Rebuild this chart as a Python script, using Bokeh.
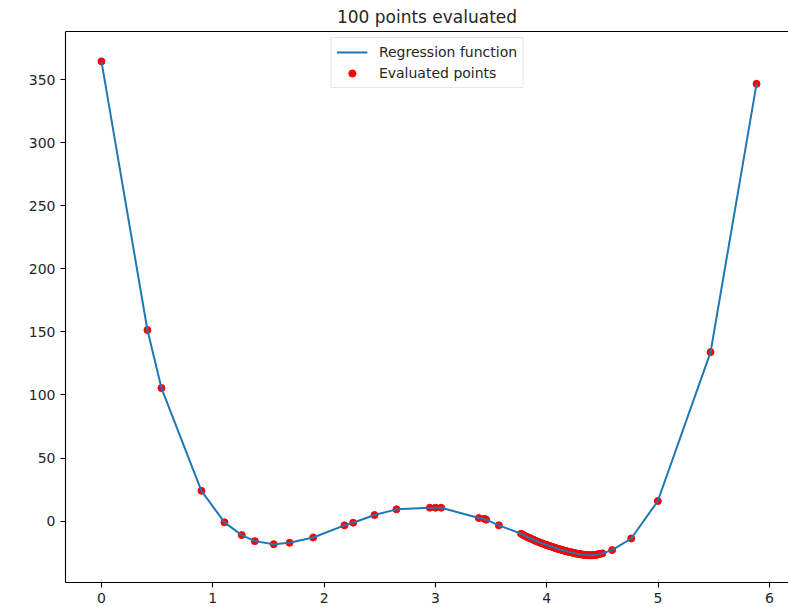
from bokeh.plotting import figure
from bokeh.models import (Range1d, FixedTicker, LinearAxis, Legend, LegendItem,
                          ColumnDataSource)
from bokeh.embed import file_html
from bokeh.resources import INLINE

# ---- data ----
title_text = "100 points evaluated"
line_label = "Regression function"
point_label = "Evaluated points"

x_outer_left = [0.0, 0.413, 0.539, 0.898, 1.105, 1.26, 1.378, 1.548, 1.69, 1.902,
                2.183, 2.261, 2.453, 2.650, 2.950, 3.001, 3.052, 3.390, 3.44, 3.456,
                3.570]
y_outer_left = [364.5, 151.5, 105.5, 24.0, -1.0, -11.1, -15.9, -18.3, -17.2, -13.0,
                -3.4, -1.3, 4.8, 9.3, 10.6, 10.6, 10.6, 2.4, 1.8, 1.1,
                -3.4]

x_cluster = [3.77, 3.79, 3.80, 3.81, 3.83, 3.84, 3.85, 3.86, 3.88, 3.89,
             3.90, 3.91, 3.93, 3.94, 3.95, 3.96, 3.98, 3.99, 4.00, 4.01,
             4.02, 4.03, 4.04, 4.05, 4.06, 4.07, 4.08, 4.09, 4.10, 4.11,
             4.12, 4.13, 4.14, 4.15, 4.16, 4.17, 4.18, 4.19, 4.20, 4.21,
             4.22, 4.23, 4.24, 4.25, 4.26, 4.27, 4.28, 4.29, 4.30, 4.31,
             4.32, 4.33, 4.34, 4.35, 4.36, 4.37, 4.38, 4.39, 4.40, 4.41,
             4.42, 4.43, 4.44, 4.45, 4.46, 4.47, 4.48, 4.50]
y_cluster = [-10.0, -11.0, -11.5, -12.0, -12.8, -13.2, -13.6, -14.0, -14.8, -15.2,
             -15.6, -16.0, -16.7, -17.0, -17.4, -17.7, -18.4, -18.7, -19.0, -19.3,
             -19.6, -19.9, -20.2, -20.5, -20.8, -21.1, -21.4, -21.7, -22.0, -22.2,
             -22.5, -22.7, -23.0, -23.2, -23.5, -23.7, -24.0, -24.2, -24.4, -24.6,
             -24.8, -25.0, -25.2, -25.4, -25.6, -25.8, -26.0, -26.1, -26.3, -26.4,
             -26.5, -26.7, -26.8, -26.9, -27.0, -27.0, -27.1, -27.1, -27.1, -27.0,
             -27.0, -26.9, -26.8, -26.6, -26.4, -26.2, -26.0, -25.6]

x_outer_right = [4.588, 4.759, 4.998, 5.472, 5.885]
y_outer_right = [-23.0, -13.8, 15.9, 134.0, 346.7]

x_ticks = [0, 1, 2, 3, 4, 5, 6]
y_ticks = [0, 50, 100, 150, 200, 250, 300, 350]

xs = x_outer_left + x_cluster + x_outer_right
ys = y_outer_left + y_cluster + y_outer_right
src = ColumnDataSource(dict(x=xs, y=ys))

FONT = "DejaVu Sans"

p = figure(width=788, height=607, output_backend="svg", toolbar_location=None,
           x_range=Range1d(-0.323, 6.172), y_range=Range1d(-48.7, 388.2),
           min_border_left=65, min_border_right=0, min_border_top=0,
           min_border_bottom=25, x_axis_location=None, y_axis_location=None)

p.outline_line_color = None
p.xgrid.visible = False
p.ygrid.visible = False
p.background_fill_color = "white"
p.border_fill_color = "white"

def style_axis(ax, ticks):
    ax.ticker = FixedTicker(ticks=ticks)
    ax.axis_line_color = "black"
    ax.axis_line_width = 1.1
    ax.major_tick_line_color = "black"
    ax.major_tick_line_width = 1.1
    ax.major_tick_in = 0
    ax.major_tick_out = 5
    ax.minor_tick_line_color = None
    ax.major_label_text_font = FONT
    ax.major_label_text_font_size = "14px"
    ax.major_label_text_color = "#262626"
    ax.major_label_standoff = 5

xa = LinearAxis()
style_axis(xa, x_ticks)
p.add_layout(xa, "below")
ya = LinearAxis()
style_axis(ya, y_ticks)
p.add_layout(ya, "left")

top = LinearAxis()
top.ticker = FixedTicker(ticks=[])
top.axis_line_color = "black"
top.axis_line_width = 1.1
top.major_tick_line_color = None
top.minor_tick_line_color = None
top.major_label_text_font_size = "0px"
p.add_layout(top, "above")

p.title.text = title_text
p.title.align = "center"
p.title.text_font = FONT
p.title.text_font_size = "17px"
p.title.text_font_style = "normal"
p.title.text_color = "#262626"
p.title.standoff = 9

dots = p.scatter("x", "y", source=src, size=7, color="red", line_color="red")
ln = p.line("x", "y", source=src, line_color="#1f77b4", line_width=2)

legend = Legend(items=[LegendItem(label=line_label, renderers=[ln]),
                       LegendItem(label=point_label, renderers=[dots])],
                location="top_center")
legend.label_text_font = FONT
legend.label_text_font_size = "14px"
legend.label_text_color = "#262626"
legend.glyph_width = 31
legend.glyph_height = 18
legend.label_height = 18
legend.label_standoff = 12
legend.spacing = 3
legend.padding = 5
legend.margin = 6
legend.border_line_color = "#cccccc"
legend.border_line_width = 1
legend.background_fill_alpha = 0.8
p.add_layout(legend, "center")

open("out.html", "w").write(file_html(p, INLINE))
